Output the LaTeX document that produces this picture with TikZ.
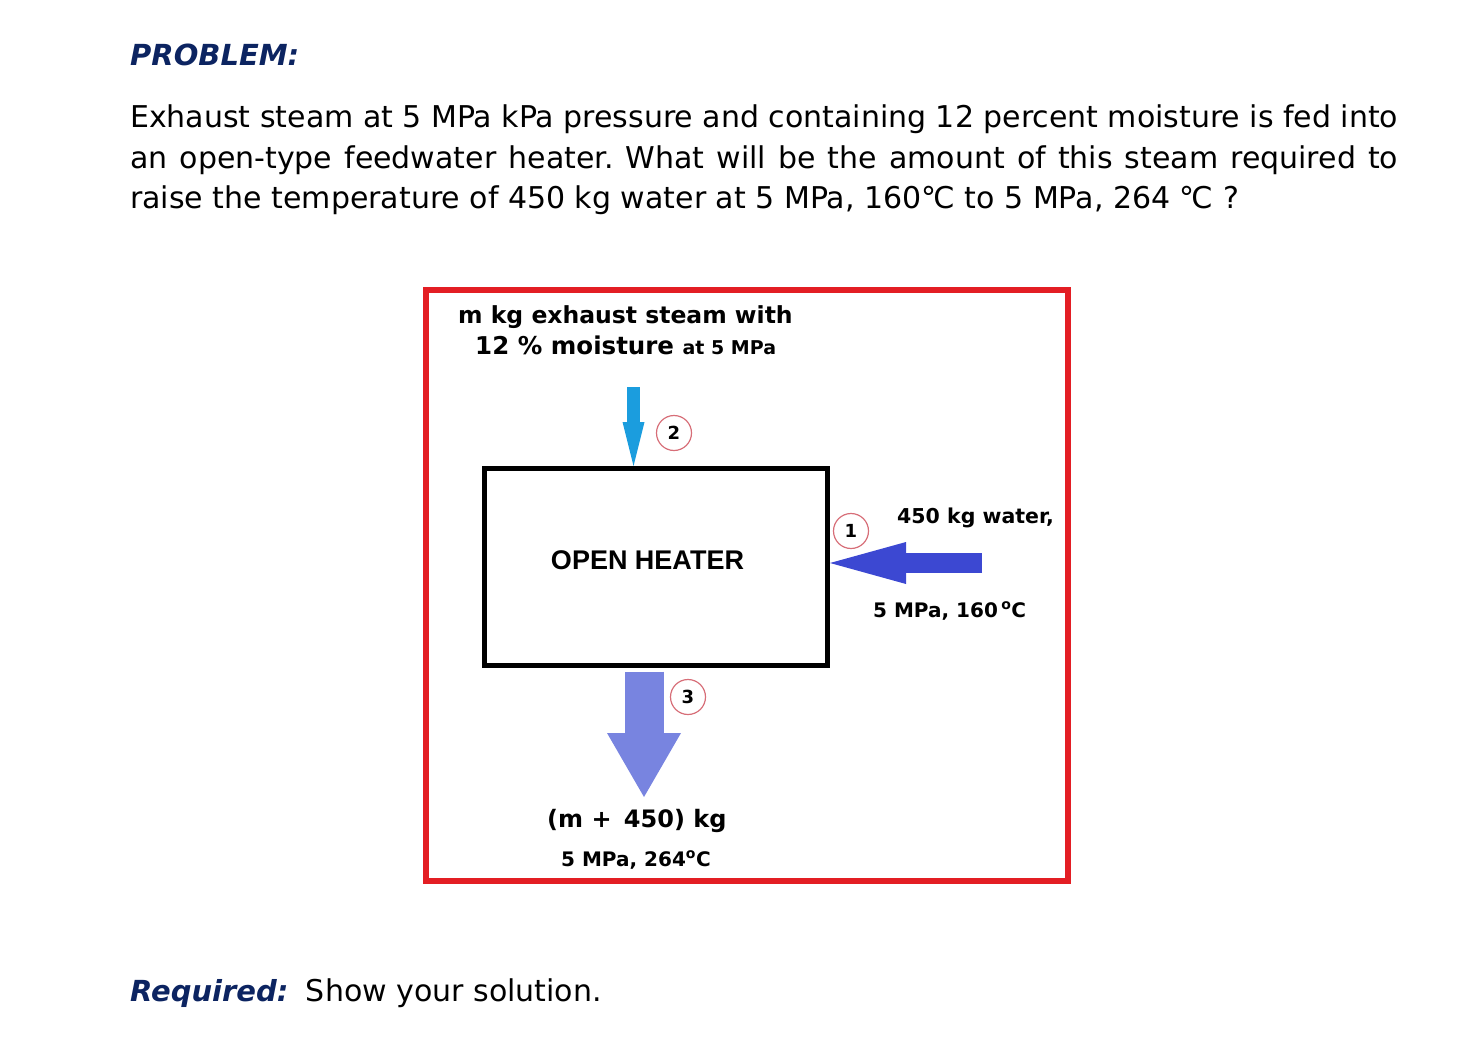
\documentclass[tikz,border=0pt]{standalone}
\usepackage{fontspec}
\setmainfont{DejaVu Sans}
\newfontfamily\bodyfont{DejaVu Sans}
\newfontfamily\heaterfont{Liberation Sans}
\usetikzlibrary{arrows.meta,calc}
\definecolor{navy}{RGB}{12,36,97}
\definecolor{framered}{RGB}{227,30,36}
\definecolor{steamblue}{RGB}{27,157,222}
\definecolor{waterblue}{RGB}{60,72,210}
\definecolor{mixblue}{RGB}{120,132,224}
\definecolor{ringred}{RGB}{215,110,120}
\frenchspacing

\begin{document}
\begin{tikzpicture}[x=1pt,y=-1pt,
    txt/.style={inner sep=0pt,anchor=base west},
    lbl/.style={inner sep=0pt,anchor=base west,font=\bfseries\fontsize{#1}{#1}\selectfont},
    num/.style={circle,draw=ringred,line width=1.2pt,minimum size=35pt,inner sep=0pt,
                font=\bfseries\fontsize{18}{18}\selectfont},
    flow/.style n args={4}{draw=#1,line width=#2,
                -{Triangle[length=#3,width=#4,line width=0pt]}}]
  \useasboundingbox (0,0) rectangle (1464,1054);

  % problem statement
  \node[txt,font=\bfseries\itshape\fontsize{29}{29}\selectfont,text=navy] (problem) at (130,66) {PROBLEM:};
  \node[txt,font=\bodyfont\fontsize{30}{40}\selectfont] (line1) at (130,128)
    {\makebox[1268pt][s]{Exhaust steam at 5 MPa kPa pressure and containing 12 percent moisture is fed into}};
  \node[txt,font=\bodyfont\fontsize{30}{40}\selectfont] (line2) at (130,168)
    {\makebox[1268pt][s]{an open-type feedwater heater. What will be the amount of this steam required to}};
  \node[txt,font=\bodyfont\fontsize{30}{40}\selectfont] (line3) at (130,208)
    {raise the temperature of 450 kg water at 5 MPa, 160℃ to 5 MPa, 264 ℃ ?};

  % diagram
  \draw[framered,line width=6pt] (426,290) rectangle (1068,881);
  \node[draw,line width=5pt,minimum width=343pt,minimum height=196.5pt,inner sep=0pt] (heater) at (656,566.75) {};
  \node[inner sep=0pt,anchor=base,font=\heaterfont\bfseries\fontsize{27}{27}\selectfont] (heatername) at (647.5,569) {OPEN HEATER};

  \node[lbl=23.5] (steam1) at (458,323) {m kg exhaust steam with};
  \node[lbl=24.5] (steam2) at (475,354) {12 \% moisture {\fontsize{19}{19}\selectfont at 5 MPa}};
  \coordinate (in2) at (633.5,387);
  \draw[flow={steamblue}{13pt}{44pt}{22pt}] (in2) -- (in2 |- heater.north);
  \node[num] (n2) at (674,433) {2};

  \node[lbl=20.5] (water1) at (897,523) {450 kg water,};
  \node[lbl=20] (water2) at (873,617) {5 MPa, 160\,\textsuperscript{o}C};
  \coordinate (in1) at (982,563);
  \draw[flow={waterblue}{20pt}{76pt}{42pt}] (in1) -- (in1 -| heater.east);
  \node[num] (n1) at (851,531) {1};

  \coordinate (out3) at (644,797);
  \draw[flow={mixblue}{39pt}{64pt}{74pt}] ($(heater.south -| out3)+(0,4)$) -- (out3);
  \node[num] (n3) at (688,697) {3};
  \node[lbl=24] (mix1) at (547,827) {(m + \,450) kg};
  \node[lbl=20] (mix2) at (561,866) {5 MPa, 264\textsuperscript{o}C};

  % required
  \node[txt,font=\bodyfont\fontsize{30}{30}\selectfont] (required) at (130,1001)
    {{\bfseries\itshape\fontsize{29}{29}\selectfont\color{navy}Required:}\hspace{8pt} Show your solution.};
\end{tikzpicture}
\end{document}
